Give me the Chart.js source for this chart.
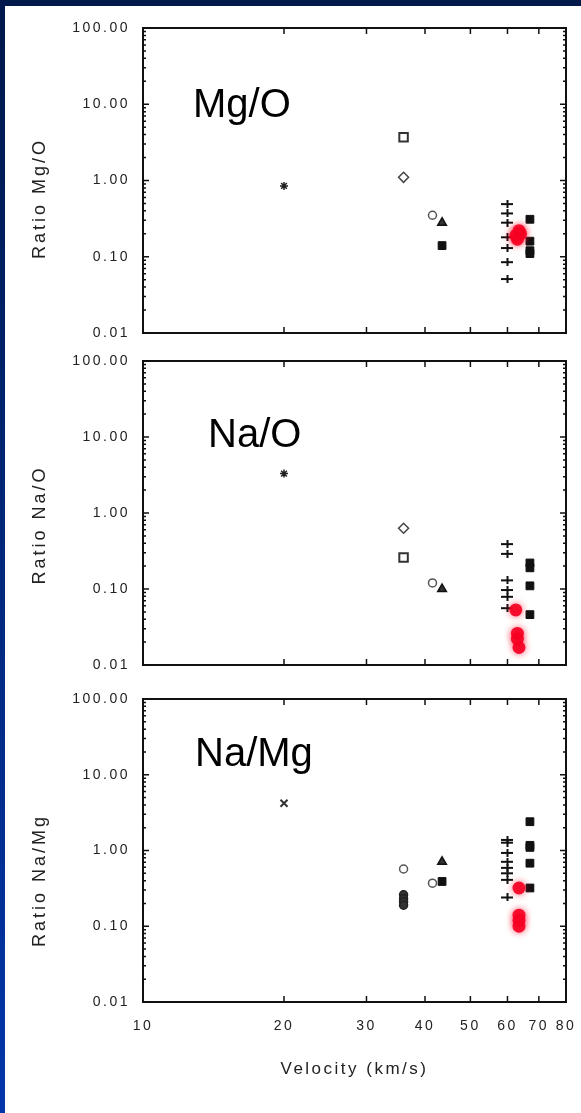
<!DOCTYPE html>
<html>
<head>
<meta charset="utf-8">
<title>Mg/O, Na/O, Na/Mg vs velocity</title>
<script src="https://cdn.jsdelivr.net/npm/chart.js@4.4.1/dist/chart.umd.min.js"></script>
<style>
  html, body { margin: 0; padding: 0; }
  body {
    width: 581px; height: 1113px; overflow: hidden; position: relative;
    background: linear-gradient(#00184a, #0036aa);
  }
  #sheet { position: absolute; left: 5px; top: 6px; right: 0; bottom: 0; background: #fff; }
  canvas { position: absolute; left: 0; }
</style>
</head>
<body>
<div id="sheet"></div>
<canvas id="mgoChart" width="581" height="345" style="top:0"></canvas>
<canvas id="naoChart" width="581" height="341" style="top:345px"></canvas>
<canvas id="namgChart" width="581" height="427" style="top:686px"></canvas>
<script>
// axes
const velocityTicks = [10, 20, 30, 40, 50, 60, 70, 80];
const ratioTicks = [0.01, 0.1, 1, 10, 100];

// Mg/O panel (velocity km/s, ratio)
const mgoStarV = [20];                  const mgoStar = [0.85];
const mgoSquareOpenV = [36];            const mgoSquareOpen = [3.7];
const mgoDiamondV = [36];               const mgoDiamond = [1.1];
const mgoCircleV = [41.5];              const mgoCircle = [0.35];
const mgoTriangleV = [43.5];            const mgoTriangle = [0.28];
const mgoSquareV = [43.5, 67, 67, 67, 67];
const mgoSquare = [0.14, 0.31, 0.16, 0.12, 0.11];
const mgoPlusV = [60, 60, 60, 60, 60, 60, 60];
const mgoPlus = [0.49, 0.37, 0.28, 0.18, 0.13, 0.085, 0.051];
const mgoRedV = [62.5, 63, 63.5, 64];
const mgoRed = [0.19, 0.17, 0.22, 0.2];

// Na/O panel
const naoStarV = [20];                  const naoStar = [3.3];
const naoDiamondV = [36];               const naoDiamond = [0.63];
const naoSquareOpenV = [36];            const naoSquareOpen = [0.26];
const naoCircleV = [41.5];              const naoCircle = [0.12];
const naoTriangleV = [43.5];            const naoTriangle = [0.1];
const naoPlusV = [60, 60, 60, 60, 60, 60];
const naoPlus = [0.39, 0.29, 0.13, 0.097, 0.079, 0.056];
const naoRedV = [62.5, 63, 63, 63.5];
const naoRed = [0.053, 0.026, 0.022, 0.017];
const naoSquareV = [67, 67, 67, 67];
const naoSquare = [0.22, 0.19, 0.11, 0.046];

// Na/Mg panel
const namgCrossV = [20];                const namgCross = [4.2];
const namgCircleOpenV = [36];           const namgCircleOpen = [0.57];
const namgCircleDarkV = [36, 36, 36, 36];
const namgCircleDark = [0.26, 0.23, 0.21, 0.19];
const namgCircleV = [41.5];             const namgCircle = [0.37];
const namgTriangleV = [43.5];           const namgTriangle = [0.71];
const namgPlusV = [60, 60, 60, 60, 60, 60, 60, 60];
const namgPlus = [1.38, 1.27, 0.93, 0.71, 0.59, 0.5, 0.41, 0.24];
const namgRedV = [63.5, 63.5, 63.5, 63.5];
const namgRed = [0.32, 0.14, 0.12, 0.1];
const namgSquareV = [43.5, 67, 67, 67, 67, 67];
const namgSquare = [0.39, 2.4, 1.17, 1.1, 0.68, 0.32];

const ink = '#111';
const fontFamily = '"Liberation Sans", Arial, sans-serif';

function plusMark() {
  const c = document.createElement('canvas');
  c.width = 12; c.height = 8;
  const g = c.getContext('2d');
  g.fillStyle = ink;
  g.fillRect(0, 3, 12, 2);
  g.fillRect(5, 0, 2, 8);
  return c;
}

const markers = {
  star: { pointStyle: 'star', pointRadius: 4, borderWidth: 1.5, borderColor: '#222' },
  cross: { pointStyle: 'crossRot', pointRadius: 5, borderWidth: 2, borderColor: '#333' },
  diamond: { pointStyle: 'rectRot', pointRadius: 5, borderWidth: 1.5, borderColor: '#444', backgroundColor: '#fff' },
  squareOpen: { pointStyle: 'rect', pointRadius: 6, borderWidth: 2, borderColor: '#333', backgroundColor: '#fff' },
  circleOpen: { pointStyle: 'circle', pointRadius: 4, borderWidth: 1.5, borderColor: '#555', backgroundColor: '#fff' },
  circleDark: { pointStyle: 'circle', pointRadius: 4, borderWidth: 1.5, borderColor: '#222', backgroundColor: '#333' },
  triangle: { pointStyle: 'triangle', pointRadius: 5, borderWidth: 1.5, borderColor: ink, backgroundColor: '#333' },
  square: { pointStyle: 'rect', pointRadius: 5.5, borderWidth: 1, borderColor: ink, backgroundColor: ink },
  plus: { pointStyle: plusMark(), pointRadius: 5 },
  red: { pointStyle: 'circle', pointRadius: 6.5, borderWidth: 0, backgroundColor: 'rgba(245,0,35,0.92)', glow: true },
};

function series(xs, ys, kind) {
  return Object.assign({ data: xs.map((x, i) => ({ x: x, y: ys[i] })), showLine: false }, markers[kind]);
}

// all the IDL-ish text is wide, so spread the letters
const spacing = {
  id: 'spacing',
  beforeUpdate(chart) { chart.ctx.letterSpacing = '2.5px'; },
  beforeDraw(chart) { chart.ctx.letterSpacing = '2.5px'; },
};

// red points have a soft halo
const glow = {
  id: 'glow',
  beforeDatasetDraw(chart, args) {
    if (!chart.data.datasets[args.index].glow) return;
    chart.ctx.save();
    chart.ctx.shadowColor = 'rgba(255,0,40,0.7)';
    chart.ctx.shadowBlur = 7;
  },
  afterDatasetDraw(chart, args) {
    if (chart.data.datasets[args.index].glow) chart.ctx.restore();
  },
};

// box, inward ticks, y title and the big panel label
const frame = {
  id: 'frame',
  afterDatasetsDraw(chart, args, opts) {
    const { ctx, chartArea: a, scales: { x, y } } = chart;
    ctx.save();
    ctx.strokeStyle = ink;
    ctx.lineWidth = 2;
    ctx.strokeRect(a.left, a.top, a.right - a.left, a.bottom - a.top);

    ctx.lineWidth = 1.5;
    ctx.beginPath();
    ratioTicks.forEach(d => {
      const py = y.getPixelForValue(d);
      ctx.moveTo(a.left, py); ctx.lineTo(a.left + 6, py);
      ctx.moveTo(a.right, py); ctx.lineTo(a.right - 6, py);
      if (d >= 100) return;
      for (let m = 2; m <= 9; m++) {
        const my = y.getPixelForValue(d * m);
        ctx.moveTo(a.left, my); ctx.lineTo(a.left + 3, my);
        ctx.moveTo(a.right, my); ctx.lineTo(a.right - 3, my);
      }
    });
    velocityTicks.slice(1, -1).forEach(v => {
      const px = x.getPixelForValue(v);
      ctx.moveTo(px, a.bottom); ctx.lineTo(px, a.bottom - 6);
      ctx.moveTo(px, a.top); ctx.lineTo(px, a.top + 6);
    });
    ctx.stroke();

    ctx.letterSpacing = '3px';
    ctx.fillStyle = '#222';
    ctx.font = '18px ' + fontFamily;
    ctx.textAlign = 'center';
    ctx.textBaseline = 'middle';
    ctx.translate(40, (a.top + a.bottom) / 2 + opts.titleShift);
    ctx.rotate(-Math.PI / 2);
    ctx.fillText(opts.axisTitle, 0, 0);
    ctx.setTransform(1, 0, 0, 1, 0, 0);

    ctx.letterSpacing = '0px';
    ctx.fillStyle = '#000';
    ctx.font = '40px ' + fontFamily;
    ctx.textAlign = 'left';
    ctx.textBaseline = 'alphabetic';
    ctx.fillText(opts.label, a.left + opts.dx, a.top + opts.dy);
    ctx.restore();
  },
};

function makePanel(id, datasets, panel) {
  const showX = panel.showX;
  return new Chart(document.getElementById(id), {
    type: 'scatter',
    data: { datasets: datasets },
    plugins: [spacing, glow, frame],
    options: {
      responsive: false,
      animation: false,
      events: [],
      layout: { padding: { left: 0, right: 15, top: panel.top, bottom: panel.bottom } },
      scales: {
        x: {
          type: 'logarithmic', min: 10, max: 80, display: showX,
          afterBuildTicks: s => { s.ticks = velocityTicks.map(v => ({ value: v })); },
          afterFit: s => {
            s.height = showX ? 111 : 0;
            s.paddingLeft = 0;
            s.paddingRight = 0;
          },
          grid: { display: false, drawTicks: false },
          border: { display: false },
          ticks: {
            padding: 16, autoSkip: false, maxRotation: 0, color: '#222',
            font: { family: fontFamily, size: 14 },
            callback: v => String(v),
          },
          title: {
            display: true, text: 'Velocity (km/s)', color: '#222',
            font: { family: fontFamily, size: 17 },
            padding: { top: 0, bottom: 33 },
          },
        },
        y: {
          type: 'logarithmic', min: 0.01, max: 100,
          afterBuildTicks: s => { s.ticks = ratioTicks.map(v => ({ value: v })); },
          afterFit: s => { s.width = 143; s.paddingTop = 0; s.paddingBottom = 0; },
          grid: { display: false, drawTicks: false },
          border: { display: false },
          ticks: {
            padding: 13, autoSkip: false, color: '#222',
            font: { family: fontFamily, size: 14 },
            callback: v => Number(v).toFixed(2),
          },
        },
      },
      plugins: {
        legend: { display: false },
        tooltip: { enabled: false },
        frame: panel.frame,
      },
    },
  });
}

makePanel('mgoChart', [
  series(mgoRedV, mgoRed, 'red'),
  series(mgoStarV, mgoStar, 'star'),
  series(mgoSquareOpenV, mgoSquareOpen, 'squareOpen'),
  series(mgoDiamondV, mgoDiamond, 'diamond'),
  series(mgoCircleV, mgoCircle, 'circleOpen'),
  series(mgoTriangleV, mgoTriangle, 'triangle'),
  series(mgoSquareV, mgoSquare, 'square'),
  series(mgoPlusV, mgoPlus, 'plus'),
], { showX: false, top: 28, bottom: 12,
     frame: { label: 'Mg/O', dx: 50, dy: 89, axisTitle: 'Ratio Mg/O', titleShift: 18 } });

makePanel('naoChart', [
  series(naoRedV, naoRed, 'red'),
  series(naoStarV, naoStar, 'star'),
  series(naoDiamondV, naoDiamond, 'diamond'),
  series(naoSquareOpenV, naoSquareOpen, 'squareOpen'),
  series(naoCircleV, naoCircle, 'circleOpen'),
  series(naoTriangleV, naoTriangle, 'triangle'),
  series(naoSquareV, naoSquare, 'square'),
  series(naoPlusV, naoPlus, 'plus'),
], { showX: false, top: 16, bottom: 21,
     frame: { label: 'Na/O', dx: 65, dy: 86, axisTitle: 'Ratio Na/O', titleShift: 12 } });

makePanel('namgChart', [
  series(namgRedV, namgRed, 'red'),
  series(namgCrossV, namgCross, 'cross'),
  series(namgCircleOpenV, namgCircleOpen, 'circleOpen'),
  series(namgCircleDarkV, namgCircleDark, 'circleDark'),
  series(namgCircleV, namgCircle, 'circleOpen'),
  series(namgTriangleV, namgTriangle, 'triangle'),
  series(namgSquareV, namgSquare, 'square'),
  series(namgPlusV, namgPlus, 'plus'),
], { showX: true, top: 13, bottom: 0,
     frame: { label: 'Na/Mg', dx: 52, dy: 67, axisTitle: 'Ratio Na/Mg', titleShift: 30 } });
</script>
</body>
</html>
